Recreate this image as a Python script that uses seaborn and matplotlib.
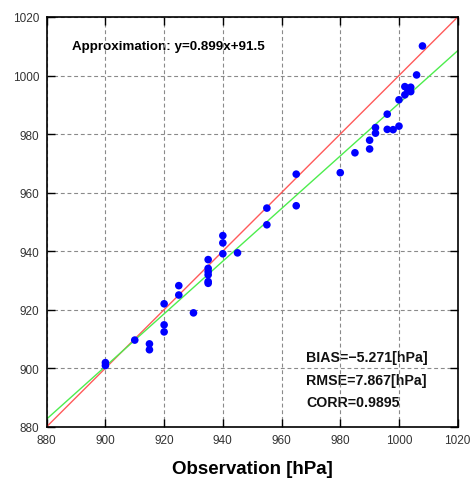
import matplotlib
matplotlib.use("Agg")
import matplotlib.pyplot as plt
import seaborn as sns
import pandas as pd

# ---- data ----
observation = [1008, 1006, 1002, 1004, 1002, 1004, 1003, 1000, 996, 992, 992, 996, 998, 1000,
               990, 990, 985, 980, 965, 965, 955, 955, 940, 940, 940, 945,
               935, 935, 935, 935, 935, 935, 925, 925, 920, 930, 920, 920,
               910, 915, 915, 900, 900]
model = [1010.1, 1000.2, 996.2, 996.0, 993.4, 994.5, 995.2, 991.7, 986.8, 982.2, 980.3, 981.6, 981.5, 982.7,
         977.9, 974.9, 973.6, 966.8, 966.3, 955.5, 954.7, 949.0, 945.3, 942.8, 939.1, 939.4,
         937.1, 934.1, 933.0, 931.9, 929.6, 929.0, 928.2, 925.0, 922.0, 918.9, 914.8, 912.4,
         909.6, 908.3, 906.3, 901.9, 900.9]
line_x = [880, 1020]
fit_slope = 0.899
fit_intercept = 91.5
ticks = [880, 900, 920, 940, 960, 980, 1000, 1020]
approx_text = "Approximation: y=0.899x+91.5"
stats_text = ["BIAS=\u22125.271[hPa]", "RMSE=7.867[hPa]", "CORR=0.9895"]
xlabel = "Observation [hPa]"

sns.set_theme(style="white")
plt.rcParams["font.family"] = ["Liberation Sans", "DejaVu Sans"]

df = pd.DataFrame({"obs": observation, "model": model})
lines = pd.DataFrame({
    "x": line_x,
    "ident": line_x,
    "fit": [fit_slope * v + fit_intercept for v in line_x],
})

fig = plt.figure(figsize=(4.74, 4.81), dpi=100)
ax = fig.add_axes([0.0985, 0.1108, 0.8671, 0.8518])

ax.set_xlim(880, 1020)
ax.set_ylim(880, 1020)
ax.set_xticks(ticks)
ax.set_yticks(ticks)

ax.grid(True, color="#8a8a8a", linestyle=(0, (3.5, 2.5)), linewidth=0.8, zorder=3)
ax.set_axisbelow(False)

sns.lineplot(data=lines, x="x", y="ident", color="#ff5a5a", linewidth=1.0, ax=ax, zorder=4)
sns.lineplot(data=lines, x="x", y="fit", color="#4ded4d", linewidth=1.0, ax=ax, zorder=4)
sns.scatterplot(data=df, x="obs", y="model", color="#0000ff", s=30, edgecolor="none",
                linewidth=0, ax=ax, zorder=5)

ax.text(888.5, 1010.2, approx_text, fontsize=9.6, fontweight="bold", va="center",
        ha="left", color="black", zorder=2)
for yv, t in zip([903.7, 895.9, 888.5], stats_text):
    ax.text(968.3, yv, t, fontsize=10.2, fontweight="bold", va="center", ha="left",
            color="#111111", zorder=2)

ax.set_xlabel(xlabel, fontsize=13.5, fontweight="bold", labelpad=10, color="black")
ax.set_ylabel("")

ax.tick_params(axis="both", which="both", direction="in", length=5.5, width=1.0,
               colors="black", labelcolor="#333333", labelsize=8.5, pad=5.5,
               top=True, right=True, bottom=True, left=True)
for sp in ax.spines.values():
    sp.set_visible(True)
    sp.set_color("black")
    sp.set_linewidth(1.2)
    sp.set_zorder(6)

fig.savefig("out.png", dpi=100)
